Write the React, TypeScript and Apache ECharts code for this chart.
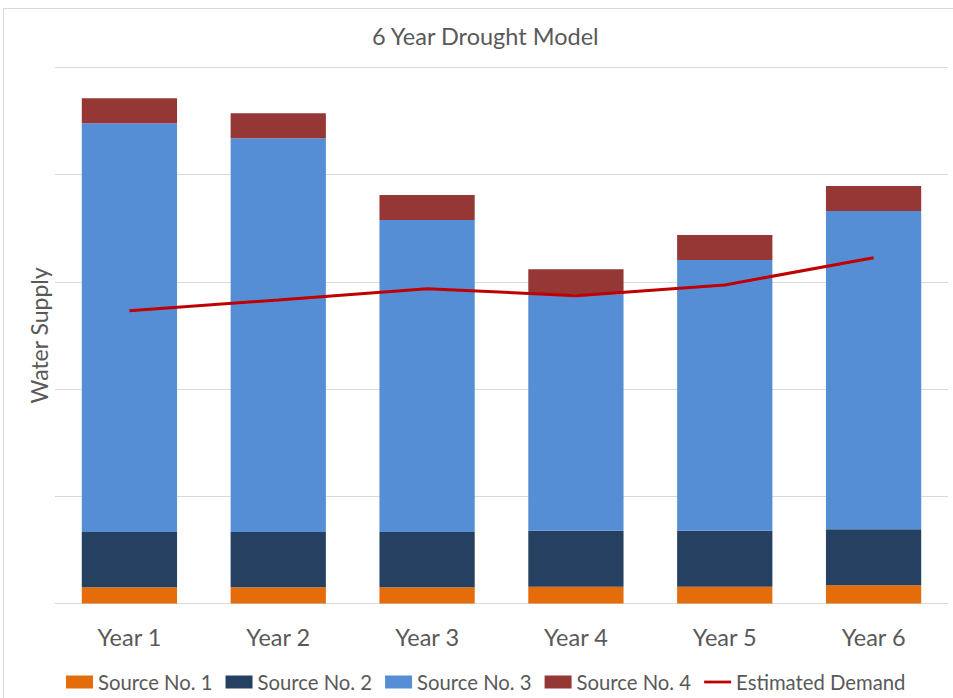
import React, { useEffect, useRef } from "react";
import * as echarts from "echarts";

const categories = ["Year 1", "Year 2", "Year 3", "Year 4", "Year 5", "Year 6"];
const source1 = [15.1, 15.1, 15.1, 15.7, 15.7, 17.0];
const source2 = [51.6, 51.6, 51.6, 52.2, 52.2, 52.2];
const source3 = [381.1, 367.1, 290.9, 220.4, 252.4, 296.8];
const source4 = [23.3, 23.3, 23.3, 23.3, 23.3, 23.3];
const demand = [273.0, 283.0, 293.5, 287.0, 297.0, 322.4];

const FONT = "Lato";
const TEXT = "#595959";
const GRIDC = "#d9d9d9";

export default function App() {
  const ref = useRef<HTMLDivElement>(null);
  useEffect(() => {
    if (!ref.current) return;
    const chart = echarts.init(ref.current, null, { renderer: "svg" });
    const barSeries = (name: string, data: number[], color: string) => ({
      name,
      type: "bar",
      stack: "supply",
      data,
      barCategoryGap: "36%",
      itemStyle: { color },
    });
    chart.setOption({
      animation: false,
      backgroundColor: "#ffffff",
      textStyle: { fontFamily: FONT },
      graphic: [
        {
          type: "rect",
          shape: { x: 3.5, y: 8.5, width: 1000, height: 720 },
          style: { fill: "none", stroke: GRIDC, lineWidth: 1 },
          silent: true,
        },
      ],
      title: {
        text: "6 Year Drought Model",
        left: 367,
        top: 19,
        padding: 5,
        textStyle: { fontFamily: FONT, fontSize: 23.5, fontWeight: "normal", color: TEXT },
      },
      grid: { left: 55, right: 5, top: 67.25, bottom: 94.5, containLabel: false },
      legend: {
        left: 61,
        top: 667,
        itemWidth: 27,
        itemHeight: 13,
        itemGap: 13,
        textStyle: { fontFamily: FONT, fontSize: 20.3, color: TEXT },
        data: [
          { name: "Source No. 1", icon: "rect" },
          { name: "Source No. 2", icon: "rect" },
          { name: "Source No. 3", icon: "rect" },
          { name: "Source No. 4", icon: "rect" },
          { name: "Estimated Demand", icon: "path://M0,0 L29,0 L29,3 L0,3 Z" },
        ],
      },
      xAxis: {
        type: "category",
        data: categories,
        axisLine: { lineStyle: { color: GRIDC, width: 1 } },
        axisTick: { show: false },
        axisLabel: { fontFamily: FONT, fontSize: 23.5, color: TEXT, margin: 21 },
      },
      yAxis: {
        type: "value",
        min: 0,
        max: 500,
        interval: 100,
        name: "Water Supply",
        nameLocation: "middle",
        nameGap: 5,
        nameTextStyle: { fontFamily: FONT, fontSize: 23, color: TEXT },
        axisLabel: { show: false },
        axisLine: { show: false },
        axisTick: { show: false },
        splitLine: { lineStyle: { color: GRIDC, width: 1 } },
      },
      series: [
        barSeries("Source No. 1", source1, "#E46C0A"),
        barSeries("Source No. 2", source2, "#254061"),
        barSeries("Source No. 3", source3, "#558ED5"),
        barSeries("Source No. 4", source4, "#953735"),
        {
          name: "Estimated Demand",
          type: "line",
          data: demand,
          symbol: "none",
          lineStyle: { color: "#C00000", width: 3 },
          itemStyle: { color: "#C00000" },
          z: 5,
        },
      ],
    });
    return () => chart.dispose();
  }, []);
  return (
    <div
      ref={ref}
      style={{ position: "absolute", left: 0, top: 0, width: 953, height: 698 }}
    />
  );
}
